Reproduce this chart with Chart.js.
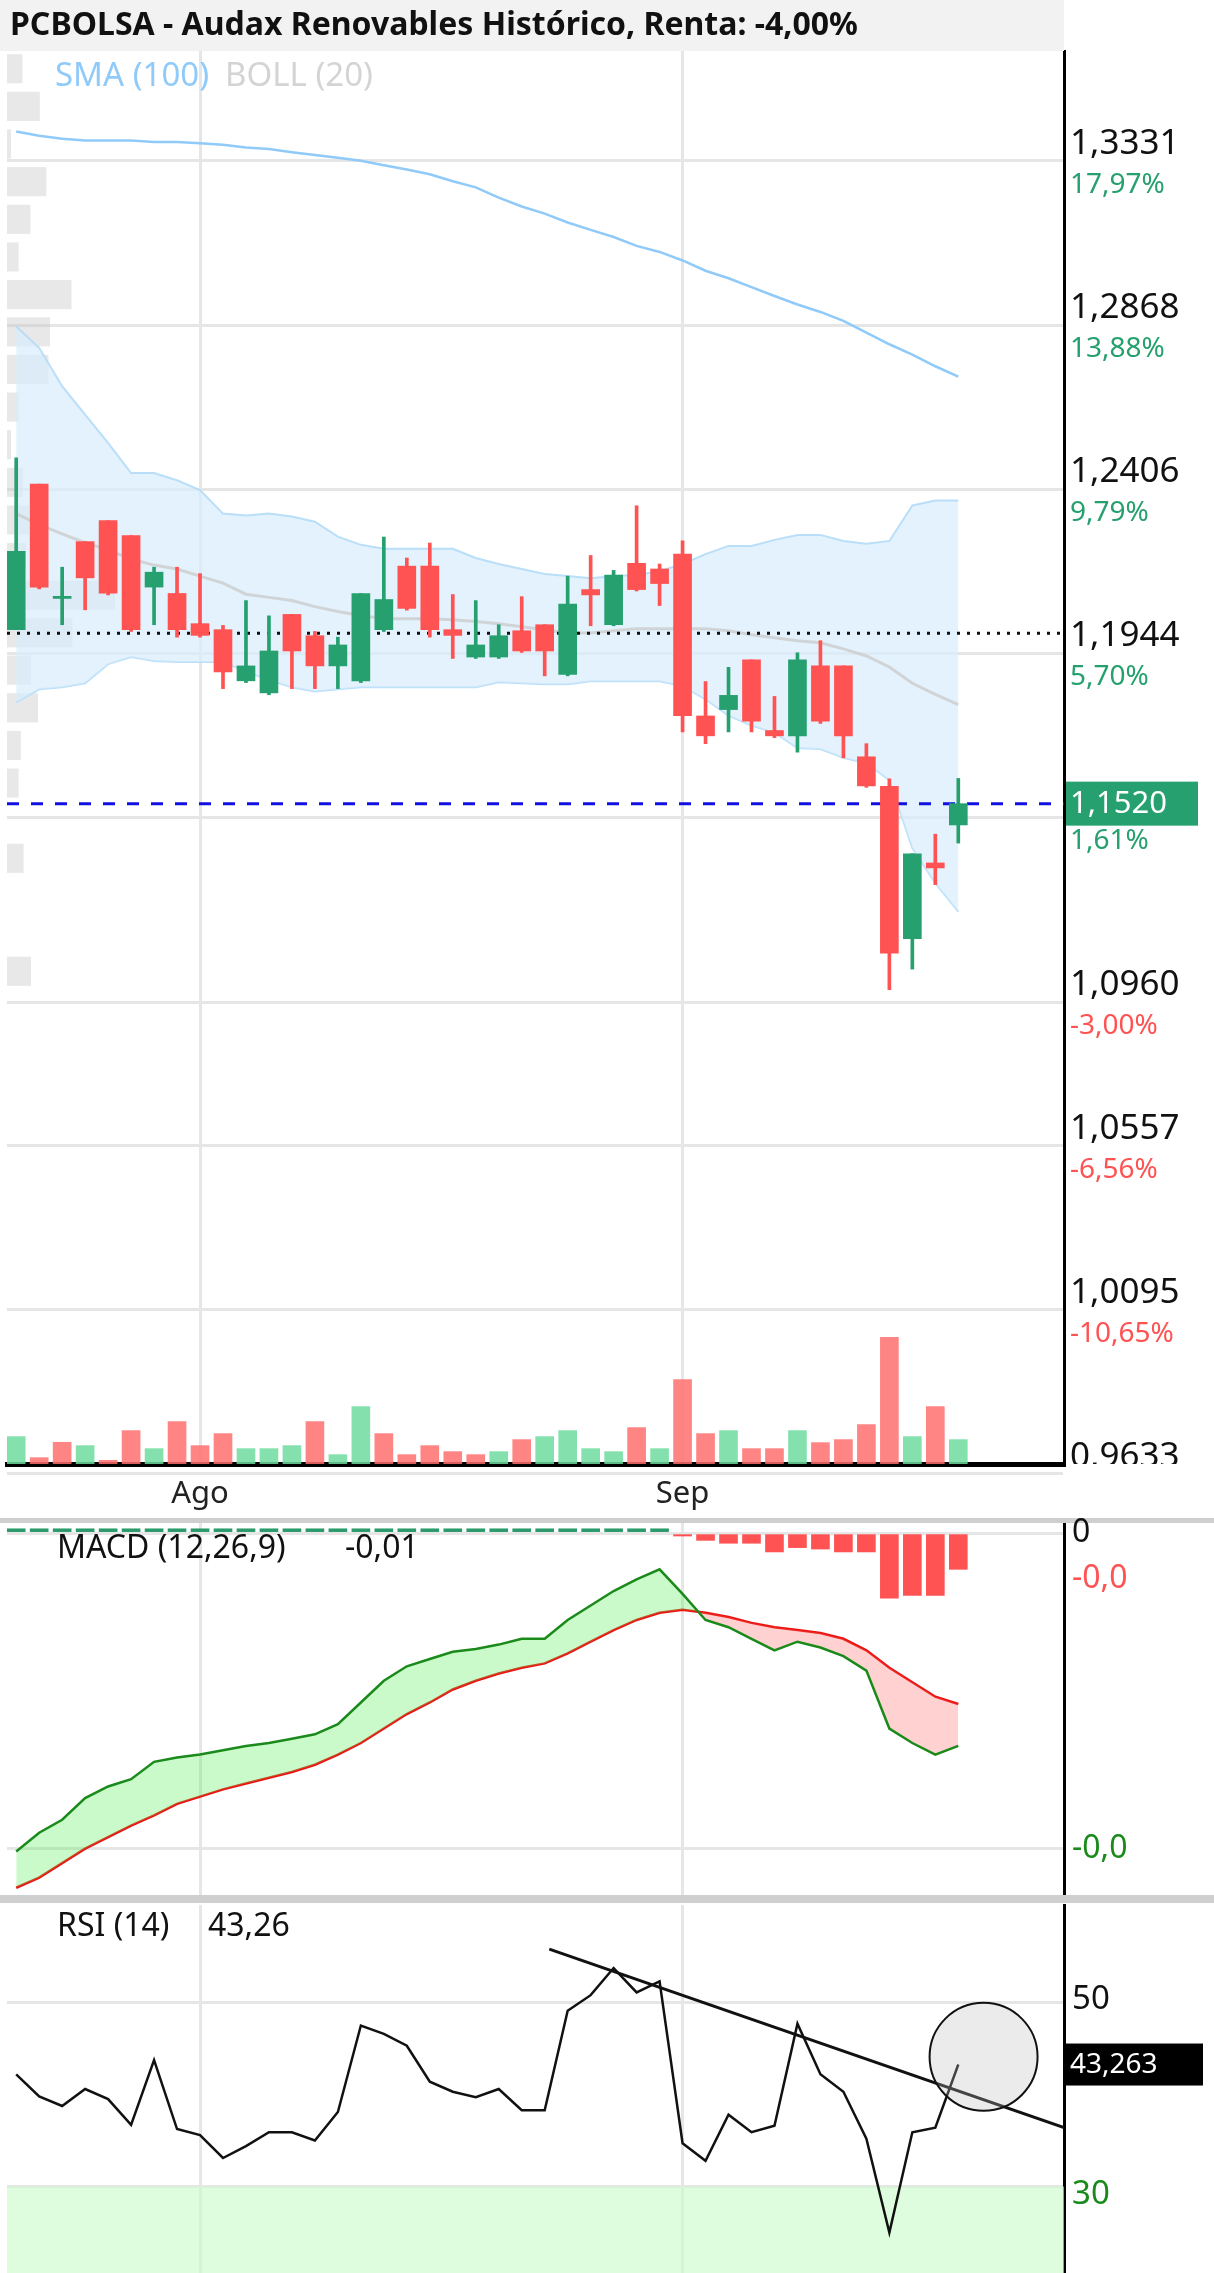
<!DOCTYPE html>
<html lang="es">
<head>
<meta charset="UTF-8" />
<title>PCBOLSA - Audax Renovables</title>
<script src="https://cdn.jsdelivr.net/npm/chart.js@4.4.1/dist/chart.umd.min.js"></script>
<style>
  html, body { margin: 0; padding: 0; background: #fff; }
  .panel { position: relative; width: 1214px; }
  #pMain { height: 1518px; }
  #pMacd { height: 377px; }
  #pRsi { height: 378px; }
</style>
</head>
<body>
<div class="panel" id="pMain"><canvas id="main"></canvas></div>
<div class="panel" id="pMacd"><canvas id="macd"></canvas></div>
<div class="panel" id="pRsi"><canvas id="rsi"></canvas></div>
<script>
// ---- datos ----
const opens  = [1.2010,1.2420,1.2098,1.2258,1.2317,1.2275,1.2130,1.2112,1.2027,1.2010,1.1866,1.1832,1.2053,1.1993,1.1908,1.1866,1.2010,1.2189,1.2189,1.2010,1.1933,1.1933,1.2007,1.2024,1.1884,1.2123,1.2024,1.2197,1.2181,1.2223,1.1767,1.1785,1.1925,1.1726,1.1711,1.1908,1.1908,1.1652,1.1569,1.1140,1.1353,1.1460];
const closes = [1.2231,1.2130,1.2104,1.2156,1.2113,1.2010,1.2172,1.2010,1.1994,1.1891,1.1908,1.1950,1.1950,1.1908,1.1967,1.2112,1.2095,1.2070,1.2010,1.1994,1.1967,1.1993,1.1950,1.1950,1.2082,1.2108,1.2164,1.2123,1.2140,1.1768,1.1711,1.1825,1.1752,1.1711,1.1925,1.1752,1.1711,1.1570,1.1099,1.1379,1.1339,1.1520];
const highs  = [1.2494,1.2420,1.2186,1.2258,1.2317,1.2275,1.2186,1.2186,1.2168,1.2022,1.2092,1.2049,1.2053,1.2005,1.1989,1.2112,1.2271,1.2212,1.2254,1.2109,1.2092,1.2024,1.2103,1.2024,1.2161,1.2219,1.2177,1.2359,1.2195,1.2260,1.1864,1.1904,1.1925,1.1822,1.1945,1.1979,1.1908,1.1689,1.1590,1.1379,1.1434,1.1591];
const lows   = [1.2010,1.2125,1.2024,1.2066,1.2108,1.2005,1.2024,1.1989,1.1989,1.1844,1.1861,1.1827,1.1844,1.1844,1.1844,1.1861,1.2005,1.2065,1.1989,1.1929,1.1929,1.1929,1.1946,1.1880,1.1880,1.2021,1.2021,1.2119,1.2078,1.1722,1.1689,1.1722,1.1722,1.1706,1.1665,1.1746,1.1649,1.1566,1.0996,1.1054,1.1292,1.1409];
const volumes = [82,19,65,55,11,100,46,127,55,91,46,46,55,127,28,172,91,28,55,37,28,37,73,82,100,46,37,109,46,253,91,100,46,46,100,64,73,118,379,82,172,73];
const volumeUp = [1,0,0,1,0,0,1,0,0,0,1,1,1,0,1,1,0,0,0,0,0,1,0,1,1,1,1,0,1,0,0,1,0,0,1,0,0,0,0,1,0,1];
const sma100 = [1.3413,1.3401,1.3393,1.3388,1.3388,1.3388,1.3384,1.3384,1.3380,1.3376,1.3368,1.3364,1.3355,1.3347,1.3339,1.3331,1.3318,1.3306,1.3293,1.3273,1.3256,1.3227,1.3202,1.3182,1.3157,1.3136,1.3116,1.3091,1.3074,1.3050,1.3021,1.3000,1.2975,1.2950,1.2926,1.2905,1.2880,1.2847,1.2814,1.2785,1.2752,1.2723];
const bollUpper = [1.2864,1.2804,1.2696,1.2616,1.2536,1.2451,1.2451,1.2431,1.2403,1.2337,1.2332,1.2337,1.2329,1.2314,1.2272,1.2249,1.2238,1.2238,1.2238,1.2238,1.2212,1.2195,1.2181,1.2167,1.2161,1.2155,1.2161,1.2164,1.2175,1.2195,1.2223,1.2246,1.2246,1.2263,1.2277,1.2277,1.2260,1.2252,1.2260,1.2360,1.2374,1.2374];
const bollMid = [1.2337,1.2306,1.2280,1.2255,1.2235,1.2209,1.2192,1.2181,1.2161,1.2141,1.2110,1.2101,1.2092,1.2075,1.2061,1.2050,1.2041,1.2041,1.2041,1.2038,1.2033,1.2027,1.2018,1.2010,1.2001,1.2001,1.2007,1.2013,1.2013,1.2013,1.2013,1.2007,1.1996,1.1987,1.1979,1.1973,1.1956,1.1936,1.1905,1.1859,1.1828,1.1799];
const bollLower = [1.1805,1.1842,1.1848,1.1859,1.1913,1.1933,1.1922,1.1919,1.1919,1.1919,1.1893,1.1868,1.1848,1.1836,1.1842,1.1848,1.1848,1.1848,1.1848,1.1848,1.1848,1.1862,1.1859,1.1856,1.1856,1.1865,1.1865,1.1865,1.1865,1.1851,1.1814,1.1768,1.1740,1.1720,1.1677,1.1674,1.1649,1.1634,1.1586,1.1395,1.1296,1.1216];
const profilePrices = [1.3590,1.3484,1.3378,1.3272,1.3166,1.3060,1.2954,1.2849,1.2743,1.2637,1.2531,1.2425,1.2319,1.2213,1.2107,1.2001,1.1896,1.1790,1.1684,1.1578,1.1472,1.1366,1.1260,1.1154,1.1048];
const profileVolumes = [15.5,32.8,4,39.3,23.4,11.7,64.5,43,41.4,11.7,4,15.9,22.4,19,108,65.5,24,31,13.8,11.7,0,16.6,0,0,24];
const priceTicks = [1.3331,1.2868,1.2406,1.1944,1.1482,1.0960,1.0557,1.0095,0.9633];
const priceTickText = ['1,3331','1,2868','1,2406','1,1944','1,1482','1,0960','1,0557','1,0095','0,9633'];
const pctTickText = ['17,97%','13,88%','9,79%','5,70%','1,61%','-3,00%','-6,56%','-10,65%',''];
const prevClose = 1.2000;
const lastPrice = 1.1520;
const monthTicks = [8, 29];
const monthLabels = ['Ago', 'Sep'];

const macdLine = [-0.0110,-0.01035,-0.0099,-0.00915,-0.00875,-0.0085,-0.0079,-0.00775,-0.00765,-0.0075,-0.00735,-0.00725,-0.0071,-0.00695,-0.0066,-0.00585,-0.0051,-0.0046,-0.00435,-0.0041,-0.0040,-0.00385,-0.00365,-0.00365,-0.0030,-0.0025,-0.0020,-0.0016,-0.00125,-0.0021,-0.0030,-0.00325,-0.00365,-0.00405,-0.00375,-0.00395,-0.00425,-0.00475,-0.00675,-0.00725,-0.00765,-0.00735];
const signalLine = [-0.01225,-0.0119,-0.0114,-0.0109,-0.0105,-0.0101,-0.00975,-0.00935,-0.0091,-0.00885,-0.00865,-0.00845,-0.00825,-0.0080,-0.00765,-0.00725,-0.00675,-0.00625,-0.00585,-0.0054,-0.0051,-0.00485,-0.00465,-0.0045,-0.00415,-0.00375,-0.00335,-0.0030,-0.00275,-0.00265,-0.00275,-0.0029,-0.0031,-0.00325,-0.00335,-0.00345,-0.00365,-0.00405,-0.00465,-0.00515,-0.00565,-0.0059];
const macdHist = [0.00015,0.00015,0.00015,0.00015,0.00015,0.00015,0.00015,0.00015,0.00015,0.00015,0.00015,0.00015,0.00015,0.00015,0.00015,0.00015,0.00015,0.00015,0.00015,0.00015,0.00015,0.00015,0.00015,0.00015,0.00015,0.00015,0.00015,0.00015,0.00015,-0.0001,-0.00025,-0.00035,-0.00035,-0.00065,-0.0005,-0.00055,-0.00065,-0.00065,-0.00225,-0.00215,-0.00215,-0.00125];
const macdTicks = [0, -0.0109];
const macdTickText = ['0', '-0,0'];

const rsiValues = [42.2,39.8,38.75,40.6,39.5,36.7,43.75,36.25,35.6,33.1,34.4,35.9,35.9,35.0,38.1,47.5,46.6,45.3,41.4,40.3,39.7,40.6,38.3,38.3,49.1,50.8,53.75,51.1,52.3,34.7,32.8,37.8,35.9,36.6,47.7,42.2,40.3,35.2,25.0,35.9,36.4,43.26];
const rsiTicks = [50, 30];
const rsiTrend = [{ x: 23.2, y: 55.8 }, { x: 45.6, y: 36.4 }];
const rsiCircle = { x: 42.1, y: 44.1 };

// ---- estilos ----
const VERDE = '#26a06f', ROJO = '#ff5252';
const FONT = "'Noto Sans', 'Open Sans', sans-serif";
const X_MIN = -0.4, X_MAX = 45.6;
const idx = opens.map((_, i) => i);
const pts = (arr) => arr.map((v, i) => ({ x: i, y: v }));

function xAxis(showLabels) {
  return {
    type: 'linear', min: X_MIN, max: X_MAX, offset: false,
    afterBuildTicks: (s) => { s.ticks = monthTicks.map((v) => ({ value: v })); },
    afterFit: (s) => { s.height = showLabels ? 54 : 0; },
    grid: { color: '#e6e6e6', lineWidth: 3, drawTicks: false, offset: false },
    border: showLabels ? { display: true, color: '#000', width: 5 } : { display: false },
    ticks: {
      display: showLabels, padding: 12, color: '#222', font: { family: FONT, size: 31 },
      callback: (v) => monthLabels[monthTicks.indexOf(v)] || '',
    },
  };
}

function yAxis(min, max, ticks) {
  return {
    position: 'right', min: min, max: max,
    afterBuildTicks: (s) => { s.ticks = ticks.map((v) => ({ value: v })); },
    afterFit: (s) => { s.width = 150; },
    grid: { color: '#e6e6e6', lineWidth: 3, drawTicks: false },
    border: { display: true, color: '#000', width: 3 },
    ticks: { display: false },
  };
}

const baseOpts = {
  responsive: true, maintainAspectRatio: false, animation: false,
  plugins: { legend: { display: false }, tooltip: { enabled: false } },
  elements: { point: { radius: 0 } },
};

// ---- grafico principal ----
const mainPlugin = {
  id: 'mainExtras',
  beforeDatasetsDraw(chart) {
    const { ctx, chartArea, scales } = chart;
    ctx.save();
    ctx.fillStyle = 'rgba(200,200,200,0.42)';
    const half = Math.abs(scales.y.getPixelForValue(0) - scales.y.getPixelForValue(0.0082)) / 2;
    profilePrices.forEach((p, i) => {
      if (!profileVolumes[i]) return;
      const py = scales.y.getPixelForValue(p);
      ctx.fillRect(chartArea.left, py - half, profileVolumes[i] * chartArea.width / 1057, half * 2);
    });
    ctx.restore();
  },
  afterDraw(chart) {
    const { ctx, chartArea, scales } = chart;
    ctx.save();
    // titulo
    ctx.fillStyle = '#f2f2f2';
    ctx.fillRect(0, 0, chartArea.right, chartArea.top);
    ctx.fillStyle = '#111';
    ctx.font = `bold 32px ${FONT}`;
    ctx.textBaseline = 'middle';
    ctx.fillText('PCBOLSA - Audax Renovables Histórico, Renta: -4,00%', 10, 26);
    ctx.font = `33px ${FONT}`;
    ctx.fillStyle = '#90caf9';
    ctx.fillText('SMA (100)', 55, 77);
    ctx.fillStyle = '#d4d4d4';
    ctx.fillText('BOLL (20)', 225, 77);
    // etiquetas eje Y
    ctx.beginPath();
    ctx.rect(chartArea.right + 2, 0, 200, chartArea.bottom);
    ctx.clip();
    priceTicks.forEach((v, i) => {
      const py = scales.y.getPixelForValue(v);
      ctx.fillStyle = '#111';
      ctx.font = `35px ${FONT}`;
      ctx.fillText(priceTickText[i], chartArea.right + 6, py - 17);
      ctx.fillStyle = pctTickText[i].startsWith('-') ? ROJO : VERDE;
      ctx.font = `28px ${FONT}`;
      ctx.fillText(pctTickText[i], chartArea.right + 6, py + 24);
    });
    const pl = scales.y.getPixelForValue(lastPrice);
    ctx.fillStyle = VERDE;
    ctx.fillRect(chartArea.right, pl - 22, 134, 44);
    ctx.fillStyle = '#fff';
    ctx.font = `31px ${FONT}`;
    ctx.fillText('1,1520', chartArea.right + 6, pl + 1);
    ctx.restore();
  },
};

new Chart(document.getElementById('main'), {
  data: {
    datasets: [
      { type: 'line', data: pts(bollUpper), borderColor: 'rgba(180,220,248,0.9)', borderWidth: 2, backgroundColor: 'rgba(215,236,251,0.7)', fill: '+1', order: 10 },
      { type: 'line', data: pts(bollLower), borderColor: 'rgba(180,220,248,0.9)', borderWidth: 2, fill: false, order: 10 },
      { type: 'line', data: pts(bollMid), borderColor: 'rgba(205,205,205,0.8)', borderWidth: 3, fill: false, order: 9 },
      { type: 'line', data: pts(sma100), borderColor: '#90caf9', borderWidth: 2.5, fill: false, order: 9 },
      { type: 'bar', yAxisID: 'vol', grouped: false, barThickness: 18, order: 8,
        data: volumes.map((v, i) => ({ x: i, y: v })),
        backgroundColor: volumeUp.map((u) => (u ? 'rgba(110,220,160,0.85)' : 'rgba(255,110,110,0.85)')) },
      { type: 'line', data: [{ x: X_MIN, y: prevClose }, { x: X_MAX, y: prevClose }], borderColor: '#111', borderWidth: 3, borderDash: [3, 7], fill: false, order: 6 },
      { type: 'line', data: [{ x: X_MIN, y: lastPrice }, { x: X_MAX, y: lastPrice }], borderColor: '#1010e0', borderWidth: 3, borderDash: [12, 12], fill: false, order: 6 },
      { type: 'bar', grouped: false, barThickness: 3, order: 5,
        data: idx.map((i) => ({ x: i, y: [lows[i], highs[i]] })),
        backgroundColor: idx.map((i) => (closes[i] >= opens[i] ? VERDE : ROJO)) },
      { type: 'bar', grouped: false, barThickness: 18, order: 4,
        data: idx.map((i) => ({ x: i, y: [opens[i], closes[i]] })),
        backgroundColor: idx.map((i) => (closes[i] >= opens[i] ? VERDE : ROJO)) },
    ],
  },
  options: {
    ...baseOpts,
    layout: { padding: { top: 51, left: 7 } },
    scales: {
      x: xAxis(true),
      y: yAxis(0.966, 1.364, priceTicks),
      vol: { display: false, min: 0, max: 4230 },
    },
  },
  plugins: [mainPlugin],
});

// ---- MACD ----
const macdPlugin = {
  id: 'macdExtras',
  afterDraw(chart) {
    const { ctx, chartArea, scales } = chart;
    ctx.save();
    ctx.fillStyle = '#cfcfcf';
    ctx.fillRect(0, 0, chart.width, 5);
    ctx.textBaseline = 'middle';
    ctx.font = `32px ${FONT}`;
    ctx.fillStyle = '#111';
    ctx.fillText('MACD (12,26,9)', 57, 31);
    ctx.fillText('-0,01', 345, 31);
    ctx.fillText(macdTickText[0], chartArea.right + 8, scales.y.getPixelForValue(macdTicks[0]));
    ctx.fillStyle = ROJO;
    ctx.fillText('-0,0', chartArea.right + 8, scales.y.getPixelForValue(macdHist[macdHist.length - 1]) + 10);
    ctx.fillStyle = '#1a8a1a';
    ctx.fillText(macdTickText[1], chartArea.right + 8, scales.y.getPixelForValue(macdTicks[1]));
    ctx.restore();
  },
};

new Chart(document.getElementById('macd'), {
  data: {
    datasets: [
      { type: 'line', data: pts(macdLine), borderColor: '#1a8a1a', borderWidth: 2.5,
        fill: { target: '+1', above: 'rgba(80,240,80,0.3)', below: 'rgba(255,90,90,0.28)' }, order: 2 },
      { type: 'line', data: pts(signalLine), borderColor: '#ee1111', borderWidth: 2.5, fill: false, order: 2 },
      { type: 'bar', grouped: false, barThickness: 18, order: 3,
        data: pts(macdHist),
        backgroundColor: macdHist.map((v) => (v >= 0 ? '#2a9a6a' : ROJO)) },
    ],
  },
  options: {
    ...baseOpts,
    layout: { padding: { top: 5, left: 7 } },
    scales: { x: xAxis(false), y: yAxis(-0.0125, 0.00035, macdTicks) },
  },
  plugins: [macdPlugin],
});

// ---- RSI ----
const rsiPlugin = {
  id: 'rsiExtras',
  afterDraw(chart) {
    const { ctx, chartArea, scales } = chart;
    ctx.save();
    ctx.fillStyle = '#cfcfcf';
    ctx.fillRect(0, 0, chart.width, 8);
    // circulo
    const cx = scales.x.getPixelForValue(rsiCircle.x), cy = scales.y.getPixelForValue(rsiCircle.y);
    ctx.beginPath();
    ctx.arc(cx, cy, 54, 0, Math.PI * 2);
    ctx.fillStyle = 'rgba(190,190,190,0.3)';
    ctx.fill();
    ctx.lineWidth = 2;
    ctx.strokeStyle = '#111';
    ctx.stroke();
    ctx.textBaseline = 'middle';
    ctx.font = `32px ${FONT}`;
    ctx.fillStyle = '#111';
    ctx.fillText('RSI (14)', 57, 32);
    ctx.fillText('43,26', 208, 32);
    ctx.font = `33px ${FONT}`;
    ctx.fillText(String(rsiTicks[0]), chartArea.right + 8, scales.y.getPixelForValue(rsiTicks[0]) - 3);
    ctx.fillStyle = '#1a8a1a';
    ctx.fillText(String(rsiTicks[1]), chartArea.right + 8, scales.y.getPixelForValue(rsiTicks[1]) + 8);
    const pr = scales.y.getPixelForValue(rsiValues[rsiValues.length - 1]);
    ctx.fillStyle = '#000';
    ctx.fillRect(chartArea.right, pr - 21, 139, 42);
    ctx.fillStyle = '#fff';
    ctx.font = `28px ${FONT}`;
    ctx.fillText('43,263', chartArea.right + 6, pr + 1);
    ctx.restore();
  },
};

new Chart(document.getElementById('rsi'), {
  data: {
    datasets: [
      { type: 'line', data: [{ x: X_MIN, y: rsiTicks[1] }, { x: X_MAX, y: rsiTicks[1] }], borderWidth: 0,
        backgroundColor: 'rgba(205,250,205,0.65)', fill: 'start', order: 5 },
      { type: 'line', data: pts(rsiValues), borderColor: '#111', borderWidth: 2.5, fill: false, order: 2 },
      { type: 'line', data: rsiTrend, borderColor: '#111', borderWidth: 3, fill: false, order: 1 },
    ],
  },
  options: {
    ...baseOpts,
    layout: { padding: { top: 10, left: 7 } },
    scales: { x: xAxis(false), y: yAxis(20.6, 60.6, rsiTicks) },
  },
  plugins: [rsiPlugin],
});
</script>
</body>
</html>
